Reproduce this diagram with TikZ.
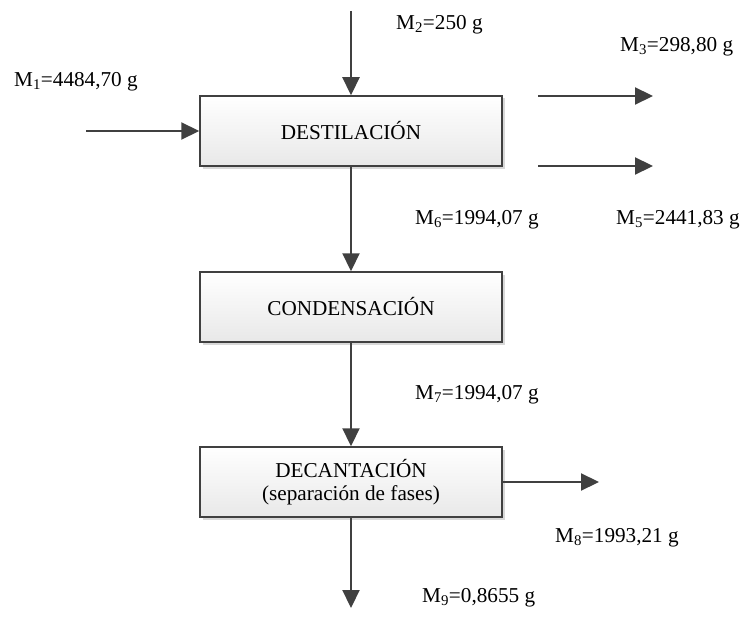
\documentclass[tikz,border=0pt]{standalone}
\usepackage{fontspec}
\setmainfont{Liberation Serif}
\usetikzlibrary{arrows.meta,shadows}
\definecolor{linegray}{HTML}{404040}
\begin{document}
\begin{tikzpicture}[x=1pt,y=-1pt,
  block/.style={draw=linegray,line width=1.5pt,top color=white,bottom color=black!9,
    drop shadow={shadow xshift=2.5pt,shadow yshift=-2.5pt,fill=black!30,opacity=0.5},
    minimum width=302pt,minimum height=70pt,align=center,inner sep=0pt,
    font=\fontsize{21.2}{22.5}\selectfont},
  flow/.style={draw=linegray,line width=2.2pt,-{Triangle[length=18pt,width=17pt]}},
  lbl/.style={anchor=west,inner sep=0pt,font=\fontsize{21.2}{24}\selectfont}]
\useasboundingbox (0,0) rectangle (740,618);
% process blocks
\node[block] (dest) at (351,131) {DESTILACIÓN};
\node[block] (cond) at (351,307) {CONDENSACIÓN};
\node[block] (decant) at (351,482) {DECANTACIÓN\\(separación de fases)};
% free ends of the streams
\coordinate (in1) at (86,131);
\coordinate (in2) at (351,11);
\coordinate (s3) at (538,96);
\coordinate (out3) at (653,96);
\coordinate (s5) at (538,166);
\coordinate (out5) at (653,166);
\coordinate (out8) at (599,482);
\coordinate (out9) at (351,608);
% streams
\draw[flow] (in1) -- (dest.west);
\draw[flow] (in2) -- (dest.north);
\draw[flow] (s3) -- (out3);
\draw[flow] (s5) -- (out5);
\draw[flow] (dest.south) -- (cond.north);
\draw[flow] (cond.south) -- (decant.north);
\draw[flow] (decant.east) -- (out8);
\draw[flow] (decant.south) -- (out9);
% mass labels
\node[lbl] (m1) at (14,82) {M\textsubscript{1}=4484,70 g};
\node[lbl] (m2) at (396,25) {M\textsubscript{2}=250 g};
\node[lbl] (m3) at (620,47) {M\textsubscript{3}=298,80 g};
\node[lbl] (m5) at (616,220) {M\textsubscript{5}=2441,83 g};
\node[lbl] (m6) at (415,220) {M\textsubscript{6}=1994,07 g};
\node[lbl] (m7) at (415,395) {M\textsubscript{7}=1994,07 g};
\node[lbl] (m8) at (555,538) {M\textsubscript{8}=1993,21 g};
\node[lbl] (m9) at (422,598) {M\textsubscript{9}=0,8655 g};
\end{tikzpicture}
\end{document}
